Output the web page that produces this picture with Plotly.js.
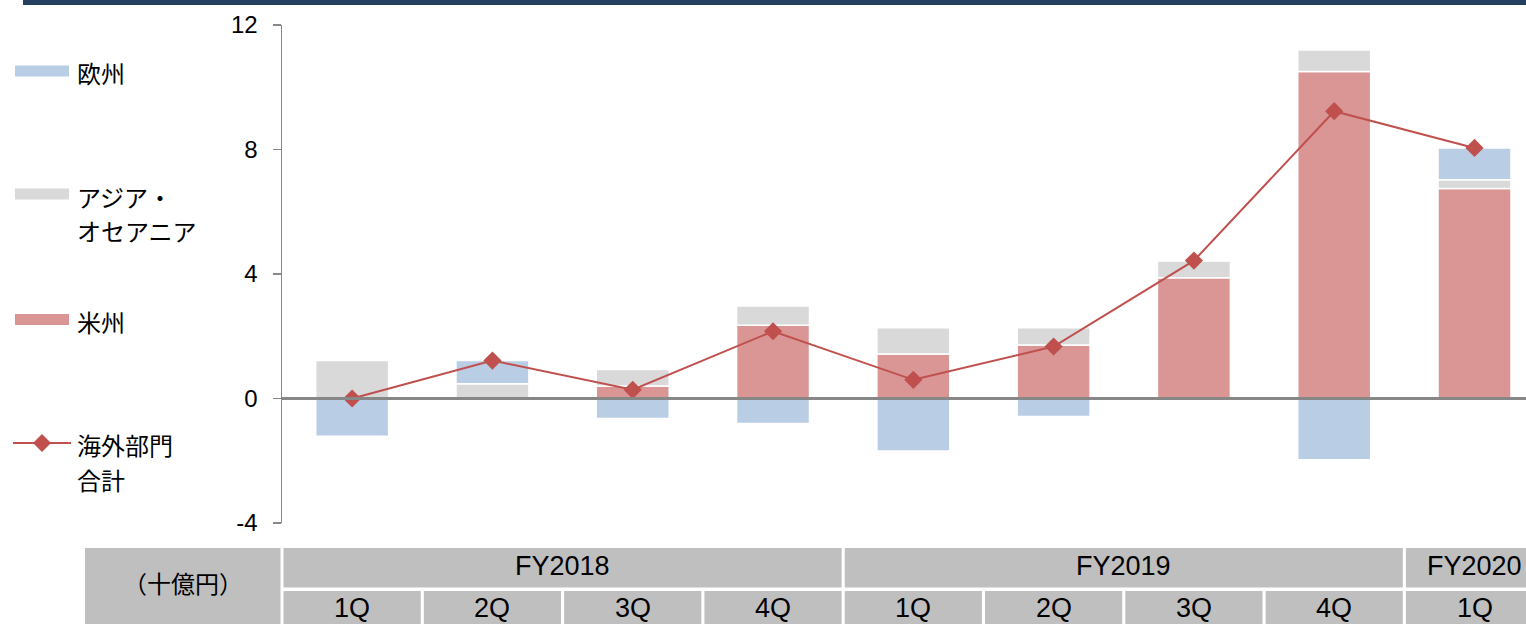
<!DOCTYPE html>
<html>
<head>
<meta charset="utf-8">
<script src="https://cdn.plot.ly/plotly-3.0.1.min.js"></script>
<style>
  html, body { margin: 0; padding: 0; background: #fff; }
  #chart { width: 1526px; height: 624px; }
</style>
</head>
<body>
<div id="chart"></div>
<script>
// 海外部門 四半期別（十億円）
const categories = ['FY2018 1Q', 'FY2018 2Q', 'FY2018 3Q', 'FY2018 4Q',
  'FY2019 1Q', 'FY2019 2Q', 'FY2019 3Q', 'FY2019 4Q', 'FY2020 1Q'];
const quarterLabels = ['1Q', '2Q', '3Q', '4Q', '1Q', '2Q', '3Q', '4Q', '1Q'];
const fiscalYears = ['FY2018', 'FY2019', 'FY2020'];
const fiscalYearSpans = [4, 4, 1];

const americas = [null, null, 0.40, 2.35, 1.43, 1.72, 3.88, 10.51, 6.75];
const asiaOceania = [1.22, 0.47, 0.53, 0.62, 0.84, 0.55, 0.54, 0.69, 0.28];
const europe = [-1.21, 0.75, -0.64, -0.80, -1.69, -0.58, null, -1.97, 1.02];
const overseasTotal = [0.00, 1.22, 0.28, 2.16, 0.60, 1.67, 4.43, 9.23, 8.05];

const yTickVals = [-4, 0, 4, 8, 12];
const yTickText = ['-4', '0', '4', '8', '12'];
const unitLabel = '（十億円）';

const C_EU = '#B9CDE5';
const C_ASIA = '#D9D9D9';
const C_US = '#D99694';
const C_LINE = '#C0504D';
const C_AXIS = '#878787';
const C_CELL = '#BFBFBF';
const C_NAVY = '#243F60';

const LATIN = 'Liberation Sans, Arial, sans-serif';
const CJK = 'Noto Sans CJK JP, sans-serif';

// 位置合わせ用: ピクセル -> paper 座標
const L = 282, T = 25, W = 1244, H = 498;
const px = p => (p - L) / W;
const py = p => (T + H - p) / H;

const barStyle = c => ({ color: c, line: { color: '#fff', width: 1.5 } });

const traces = [
  { type: 'bar', name: '米州', x: categories, y: americas, width: 0.52, marker: barStyle(C_US), hoverinfo: 'x+y' },
  { type: 'bar', name: 'アジア・オセアニア', x: categories, y: asiaOceania, width: 0.52, marker: barStyle(C_ASIA), hoverinfo: 'x+y' },
  { type: 'bar', name: '欧州', x: categories, y: europe, width: 0.52, marker: barStyle(C_EU), hoverinfo: 'x+y' },
  {
    type: 'scatter', mode: 'lines+markers', name: '海外部門合計',
    x: categories, y: overseasTotal,
    line: { color: C_LINE, width: 2 },
    marker: { symbol: 'diamond', size: 14, color: C_LINE }
  }
];

const shapes = [];
const annotations = [];

// 上部の帯
shapes.push({
  type: 'rect', xref: 'paper', yref: 'paper',
  x0: px(23), x1: px(1530), y0: py(5), y1: py(-2),
  fillcolor: C_NAVY, line: { width: 0 }
});

// 凡例（左側）
const legendRows = [
  { color: C_EU, y: 71, lines: ['欧州'] },
  { color: C_ASIA, y: 194, lines: ['アジア・', 'オセアニア'] },
  { color: C_US, y: 319.5, lines: ['米州'] },
];
legendRows.forEach(r => {
  shapes.push({
    type: 'rect', xref: 'paper', yref: 'paper',
    x0: px(15), x1: px(69), y0: py(r.y + 5.5), y1: py(r.y - 5.5),
    fillcolor: r.color, line: { width: 0 }
  });
  r.lines.forEach((t, k) => {
    annotations.push({
      xref: 'paper', yref: 'paper', x: px(75), y: py(r.y + 2 + k * 34),
      xanchor: 'left', yanchor: 'middle', showarrow: false,
      text: t, font: { family: CJK, size: 24, color: '#000' }
    });
  });
});
// 折れ線の凡例
const ly = 443;
shapes.push({
  type: 'line', xref: 'paper', yref: 'paper',
  x0: px(13), x1: px(71), y0: py(ly), y1: py(ly),
  line: { color: C_LINE, width: 2 }
});
const dx = 42, dr = 9;
shapes.push({
  type: 'path', xref: 'paper', yref: 'paper',
  path: `M ${px(dx - dr)},${py(ly)} L ${px(dx)},${py(ly - dr)} L ${px(dx + dr)},${py(ly)} L ${px(dx)},${py(ly + dr)} Z`,
  fillcolor: C_LINE, line: { width: 0 }
});
['海外部門', '合計'].forEach((t, k) => {
  annotations.push({
    xref: 'paper', yref: 'paper', x: px(75), y: py(ly + 1 + k * 35),
    xanchor: 'left', yanchor: 'middle', showarrow: false,
    text: t, font: { family: CJK, size: 24, color: '#000' }
  });
});

// 下の表
const g = 0.011;
const row1 = [py(548), py(587.5)];
const row2 = [py(591), py(630)];
const cell = (x0, x1, ys) => shapes.push({
  type: 'rect', xref: 'x', yref: 'paper',
  x0, x1, y0: ys[0], y1: ys[1], fillcolor: C_CELL, line: { width: 0 }
});
const cellText = (x, y, text) => annotations.push({
  xref: 'x', yref: 'paper', x, y, xanchor: 'center', yanchor: 'middle',
  showarrow: false, text, font: { family: LATIN, size: 27, color: '#000' }
});

// 単位セル（軸の外側なので paper 座標）
shapes.push({
  type: 'rect', xref: 'paper', yref: 'paper',
  x0: px(85), x1: px(280.5), y0: row1[0], y1: row2[1],
  fillcolor: C_CELL, line: { width: 0 }
});
annotations.push({
  xref: 'paper', yref: 'paper', x: px(183), y: py(582),
  xanchor: 'center', yanchor: 'middle', showarrow: false,
  text: unitLabel, font: { family: CJK, size: 24, color: '#000' }
});

let start = 0;
fiscalYears.forEach((fy, k) => {
  const end = start + fiscalYearSpans[k];
  cell(start - 0.5 + g, end - 0.5 - g, row1);
  cellText((start + end - 1) / 2, py(566), fy);
  start = end;
});
quarterLabels.forEach((q, i) => {
  cell(i - 0.5 + g, i + 0.5 - g, row2);
  cellText(i, py(608), q);
});

const layout = {
  width: 1526, height: 624,
  margin: { l: L, r: 0, t: T, b: 624 - T - H, pad: 0 },
  paper_bgcolor: '#fff', plot_bgcolor: '#fff',
  barmode: 'relative',
  showlegend: false,
  xaxis: {
    type: 'category', range: [-0.5, 8.367],
    showticklabels: false, showgrid: false, zeroline: false, showline: false, ticks: ''
  },
  yaxis: {
    range: [-4, 12], tickmode: 'array', tickvals: yTickVals, ticktext: yTickText,
    showgrid: false,
    zeroline: true, zerolinecolor: C_AXIS, zerolinewidth: 3, zerolinelayer: 'above traces',
    showline: true, linecolor: C_AXIS, linewidth: 1.5,
    ticks: 'outside', ticklen: 8, tickwidth: 1.5, tickcolor: C_AXIS,
    ticklabelstandoff: 10,
    tickfont: { family: LATIN, size: 24, color: '#000' }
  },
  shapes, annotations
};

Plotly.newPlot('chart', traces, layout, { displayModeBar: false, staticPlot: true });
</script>
</body>
</html>
